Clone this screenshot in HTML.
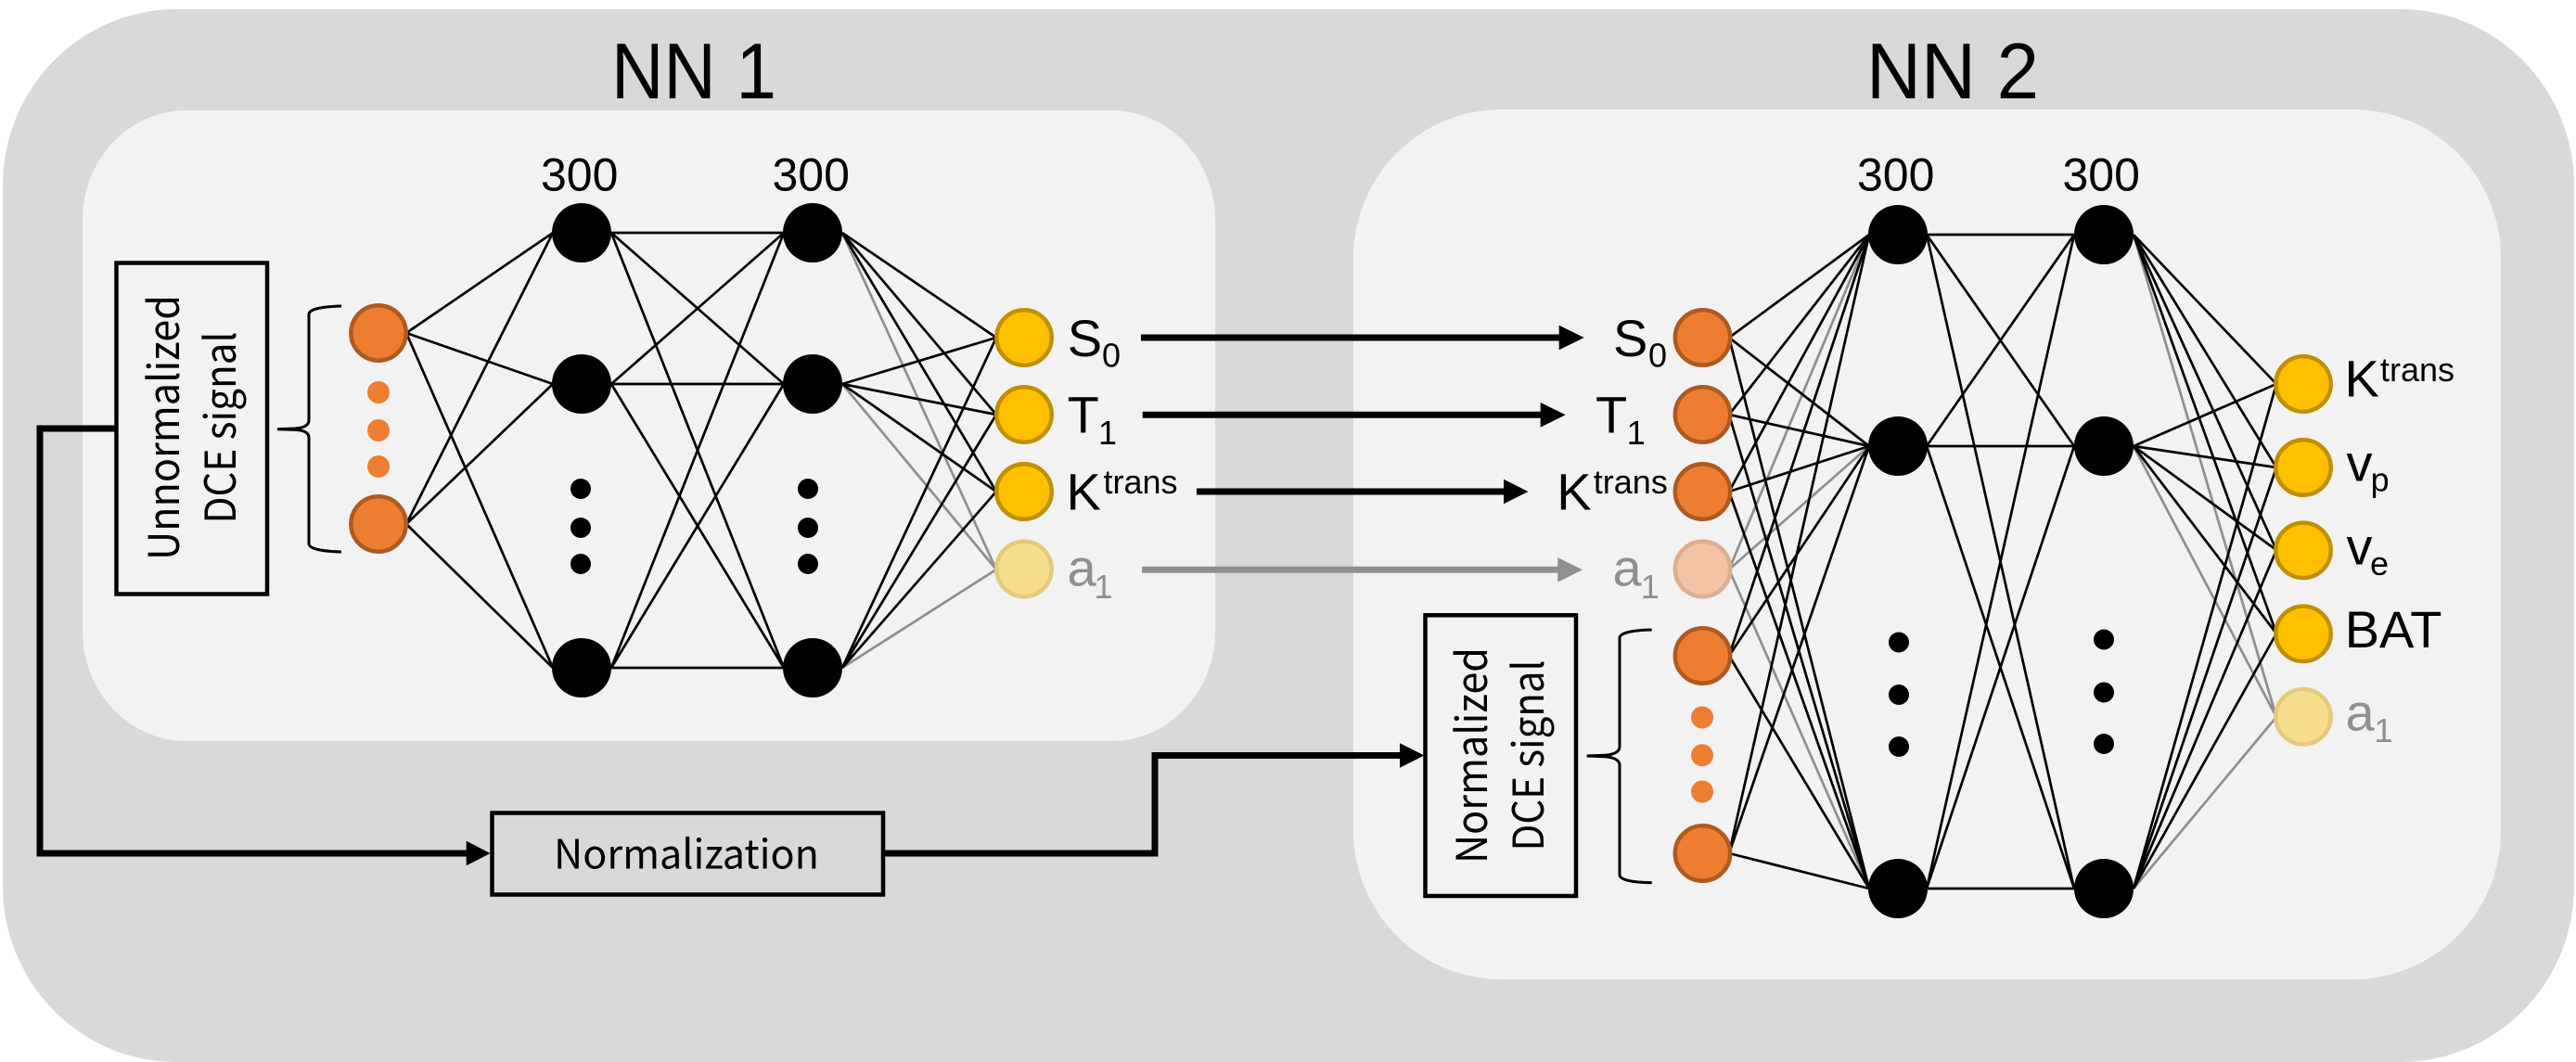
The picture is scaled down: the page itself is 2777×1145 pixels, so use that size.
<!DOCTYPE html>
<html><head><meta charset="utf-8"><style>
html,body{margin:0;padding:0;background:#fff}
svg{display:block}
text{font-family:"Liberation Sans",Arial,sans-serif;fill:#000}
text.g{fill:#8f8f8f}
text.d{font-family:"Noto Sans CJK JP","DejaVu Sans",sans-serif;font-size:46px}
text.h{font-family:"Noto Sans CJK JP","DejaVu Sans",sans-serif;font-size:43.5px}
.L{font-size:56px}.S{font-size:36px}.T{font-size:36px}.H{font-size:50px}.N{font-size:85px}
.e line{stroke:#000;stroke-width:2.7}
.eg line{stroke:#8f8f8f;stroke-width:2.7}
.hn circle{fill:#000}
.o circle{fill:#ed7d31;stroke:#ae5a21;stroke-width:4.5}
.y circle{fill:#ffc000;stroke:#bf9000;stroke-width:4.5}
</style></head><body>
<svg xmlns="http://www.w3.org/2000/svg" width="2777" height="1145" viewBox="0 0 2777 1145">
<rect width="2777" height="1145" fill="#fff"/>
<rect x="3" y="10" width="2772" height="1135" rx="187" ry="190" fill="#d9d9d9"/>
<rect x="89" y="119" width="1221" height="680" rx="112" ry="118" fill="#f2f2f2"/>
<rect x="1459" y="118" width="1237" height="938" rx="160" ry="160" fill="#f2f2f2"/>

<text class="N" x="659" y="106" textLength="178" lengthAdjust="spacingAndGlyphs">NN 1</text>
<text class="N" x="2012" y="106" textLength="186" lengthAdjust="spacingAndGlyphs">NN 2</text>
<text class="H" x="583" y="205.5">300</text>
<text class="H" x="832.5" y="205.5">300</text>
<text class="H" x="2002" y="205.5">300</text>
<text class="H" x="2223.5" y="205.5">300</text>

<!-- NN1 edges -->
<g class="e">
<line x1="438" y1="359" x2="596" y2="251"/><line x1="438" y1="359" x2="596" y2="414"/><line x1="438" y1="359" x2="596" y2="720"/>
<line x1="438" y1="565" x2="596" y2="251"/><line x1="438" y1="565" x2="596" y2="414"/><line x1="438" y1="565" x2="596" y2="720"/>
<line x1="659" y1="251" x2="845" y2="251"/><line x1="659" y1="251" x2="845" y2="414"/><line x1="659" y1="251" x2="845" y2="720"/>
<line x1="659" y1="414" x2="845" y2="251"/><line x1="659" y1="414" x2="845" y2="414"/><line x1="659" y1="414" x2="845" y2="720"/>
<line x1="659" y1="720" x2="845" y2="251"/><line x1="659" y1="720" x2="845" y2="414"/><line x1="659" y1="720" x2="845" y2="720"/>
</g>
<g class="eg">
<line x1="908" y1="251" x2="1074" y2="614"/><line x1="908" y1="414" x2="1074" y2="614"/><line x1="908" y1="720" x2="1074" y2="614"/>
</g>
<g class="e">
<line x1="908" y1="251" x2="1074" y2="364"/><line x1="908" y1="251" x2="1074" y2="447"/><line x1="908" y1="251" x2="1074" y2="530"/>
<line x1="908" y1="414" x2="1074" y2="364"/><line x1="908" y1="414" x2="1074" y2="447"/><line x1="908" y1="414" x2="1074" y2="530"/>
<line x1="908" y1="720" x2="1074" y2="364"/><line x1="908" y1="720" x2="1074" y2="447"/><line x1="908" y1="720" x2="1074" y2="530"/>
</g>

<!-- NN2 edges -->
<g class="eg">
<line x1="1864" y1="614" x2="2015" y2="253"/><line x1="1864" y1="614" x2="2015" y2="481"/><line x1="1864" y1="614" x2="2015" y2="958"/>
<line x1="2300" y1="253" x2="2454" y2="773"/><line x1="2300" y1="481" x2="2454" y2="773"/><line x1="2300" y1="958" x2="2454" y2="773"/>
</g>
<g class="e">
<line x1="1864" y1="364" x2="2015" y2="253"/><line x1="1864" y1="364" x2="2015" y2="481"/><line x1="1864" y1="364" x2="2015" y2="958"/>
<line x1="1864" y1="447" x2="2015" y2="253"/><line x1="1864" y1="447" x2="2015" y2="481"/><line x1="1864" y1="447" x2="2015" y2="958"/>
<line x1="1864" y1="530" x2="2015" y2="253"/><line x1="1864" y1="530" x2="2015" y2="481"/><line x1="1864" y1="530" x2="2015" y2="958"/>
<line x1="1864" y1="707" x2="2015" y2="253"/><line x1="1864" y1="707" x2="2015" y2="481"/><line x1="1864" y1="707" x2="2015" y2="958"/>
<line x1="1864" y1="920" x2="2015" y2="253"/><line x1="1864" y1="920" x2="2015" y2="481"/><line x1="1864" y1="920" x2="2015" y2="958"/>
<line x1="2077" y1="253" x2="2236" y2="253"/><line x1="2077" y1="253" x2="2236" y2="481"/><line x1="2077" y1="253" x2="2236" y2="958"/>
<line x1="2077" y1="481" x2="2236" y2="253"/><line x1="2077" y1="481" x2="2236" y2="481"/><line x1="2077" y1="481" x2="2236" y2="958"/>
<line x1="2077" y1="958" x2="2236" y2="253"/><line x1="2077" y1="958" x2="2236" y2="481"/><line x1="2077" y1="958" x2="2236" y2="958"/>
<line x1="2300" y1="253" x2="2454" y2="414"/><line x1="2300" y1="253" x2="2454" y2="504"/><line x1="2300" y1="253" x2="2454" y2="593"/><line x1="2300" y1="253" x2="2454" y2="683"/>
<line x1="2300" y1="481" x2="2454" y2="414"/><line x1="2300" y1="481" x2="2454" y2="504"/><line x1="2300" y1="481" x2="2454" y2="593"/><line x1="2300" y1="481" x2="2454" y2="683"/>
<line x1="2300" y1="958" x2="2454" y2="414"/><line x1="2300" y1="958" x2="2454" y2="504"/><line x1="2300" y1="958" x2="2454" y2="593"/><line x1="2300" y1="958" x2="2454" y2="683"/>
</g>

<!-- hidden nodes -->
<g class="hn">
<circle cx="627" cy="251" r="32"/><circle cx="627" cy="414" r="32"/><circle cx="627" cy="720" r="32"/>
<circle cx="876" cy="251" r="32"/><circle cx="876" cy="414" r="32"/><circle cx="876" cy="720" r="32"/>
<circle cx="626" cy="527" r="11"/><circle cx="626" cy="569" r="11"/><circle cx="626" cy="608" r="11"/>
<circle cx="871" cy="527" r="11"/><circle cx="871" cy="569" r="11"/><circle cx="871" cy="608" r="11"/>
<circle cx="2046" cy="253" r="32"/><circle cx="2046" cy="481" r="32"/><circle cx="2046" cy="958" r="32"/>
<circle cx="2268" cy="253" r="32"/><circle cx="2268" cy="481" r="32"/><circle cx="2268" cy="958" r="32"/>
<circle cx="2047" cy="692.5" r="11"/><circle cx="2047" cy="749" r="11"/><circle cx="2047" cy="805" r="11"/>
<circle cx="2268" cy="689.5" r="11"/><circle cx="2268" cy="746.5" r="11"/><circle cx="2268" cy="802" r="11"/>
</g>

<!-- input nodes -->
<g class="o">
<circle cx="408" cy="359" r="29.7"/><circle cx="408" cy="565" r="29.7"/>
<circle cx="1835.5" cy="364" r="29.7"/><circle cx="1835.5" cy="447" r="29.7"/><circle cx="1835.5" cy="530" r="29.7"/>
<circle cx="1835.5" cy="707" r="29.7"/><circle cx="1835.5" cy="920" r="29.7"/>
</g>
<circle cx="1835.5" cy="613.5" r="29.7" fill="#f2c3a5" stroke="#dcae90" stroke-width="4.5"/>
<g fill="#ed7d31">
<circle cx="408" cy="423" r="12"/><circle cx="408" cy="464" r="12"/><circle cx="408" cy="503" r="12"/>
<circle cx="1835" cy="773.5" r="12"/><circle cx="1835" cy="814.3" r="12"/><circle cx="1835" cy="853.5" r="12"/>
</g>

<!-- output nodes -->
<g class="y">
<circle cx="1104" cy="364" r="29.7"/><circle cx="1104" cy="447" r="29.7"/><circle cx="1104" cy="530" r="29.7"/>
<circle cx="2483" cy="414" r="29.7"/><circle cx="2483" cy="504" r="29.7"/><circle cx="2483" cy="593.3" r="29.7"/><circle cx="2483" cy="683.3" r="29.7"/>
</g>
<circle cx="1104" cy="613.5" r="29.7" fill="#f8df90" stroke="#e4cb7c" stroke-width="4.5"/>
<circle cx="2483" cy="772.7" r="29.7" fill="#f8df90" stroke="#e4cb7c" stroke-width="4.5"/>

<!-- NN1 output labels -->
<text class="L" x="1150.7" y="384">S</text><text class="S" x="1188" y="395.7">0</text>
<text class="L" x="1150.6" y="466.7">T</text><text class="S" x="1184" y="479">1</text>
<text class="L" x="1149.5" y="549.3">K</text><text class="T" x="1189.5" y="532">trans</text>
<text class="L g" x="1150.5" y="631.7">a</text><text class="S g" x="1179.5" y="645">1</text>

<!-- NN2 input labels -->
<text class="L" x="1739" y="384">S</text><text class="S" x="1777" y="395.7">0</text>
<text class="L" x="1720" y="466.7">T</text><text class="S" x="1753.8" y="479">1</text>
<text class="L" x="1678.2" y="549.3">K</text><text class="T" x="1717.8" y="532">trans</text>
<text class="L g" x="1738.5" y="631.7">a</text><text class="S g" x="1768.8" y="645">1</text>

<!-- NN2 output labels -->
<text class="L" x="2527.5" y="427.3">K</text><text class="T" x="2566" y="411">trans</text>
<text class="L" x="2529.5" y="518.3">v</text><text class="S" x="2555.6" y="529.3">p</text>
<text class="L" x="2529.5" y="608.3">v</text><text class="S" x="2555" y="620">e</text>
<text class="L" x="2527.7" y="698">BAT</text>
<text class="L g" x="2528.5" y="787.3">a</text><text class="S g" x="2559.5" y="800">1</text>

<!-- arrows between nets -->
<g stroke="#000" stroke-width="7" fill="none">
<line x1="1230" y1="364" x2="1685" y2="364"/>
<line x1="1231.7" y1="447.3" x2="1665" y2="447.3"/>
<line x1="1290" y1="530" x2="1625" y2="530"/>
</g>
<line x1="1231" y1="614.3" x2="1683" y2="614.3" stroke="#8f8f8f" stroke-width="7"/>
<polygon points="1680.7,350.7 1707.7,364 1680.7,377.3" fill="#000"/>
<polygon points="1660.7,434 1687.7,447.3 1660.7,460.6" fill="#000"/>
<polygon points="1621,516.7 1647.5,530 1621,543.3" fill="#000"/>
<polygon points="1679.3,601 1706,614.3 1679.3,627.6" fill="#8f8f8f"/>

<!-- boxes -->
<rect x="125.5" y="283.5" width="162.5" height="357" fill="#f2f2f2" stroke="#000" stroke-width="4.5"/>
<rect x="1536.5" y="663.3" width="162.5" height="302.7" fill="#f2f2f2" stroke="#000" stroke-width="4.5"/>
<rect x="530.5" y="876.5" width="421.5" height="88" fill="#d9d9d9" stroke="#000" stroke-width="4.5"/>

<text class="h" x="597" y="936.7" textLength="286" lengthAdjust="spacingAndGlyphs">Normalization</text>
<text class="d" transform="translate(193,604) rotate(-90)" textLength="286" lengthAdjust="spacingAndGlyphs">Unnormalized</text>
<text class="d" transform="translate(254,564.5) rotate(-90)" textLength="207" lengthAdjust="spacingAndGlyphs">DCE signal</text>
<text class="d" transform="translate(1603,931) rotate(-90)" textLength="233" lengthAdjust="spacingAndGlyphs">Normalized</text>
<text class="d" transform="translate(1664,917.5) rotate(-90)" textLength="206" lengthAdjust="spacingAndGlyphs">DCE signal</text>

<!-- braces -->
<path d="M368 330 Q333 331 333 339 L333 453 Q333 461 318 462 L299 462.7 L318 463.4 Q333 464 333 472 L333 586 Q333 594 368 595" fill="none" stroke="#000" stroke-width="3"/>
<path d="M1780.7 679 Q1746 680 1746 688 L1746 805 Q1746 813 1730 814.3 L1710.7 815 L1730 815.7 Q1746 817 1746 825 L1746 943 Q1746 951 1780.7 951.7" fill="none" stroke="#000" stroke-width="3"/>

<!-- elbow connectors -->
<polyline points="125,462 43,462 43,920 508,920" fill="none" stroke="#000" stroke-width="7"/>
<polygon points="502.7,906.7 528.5,920 502.7,933.3" fill="#000"/>
<polyline points="953,920 1245,920 1245,814.5 1514,814.5" fill="none" stroke="#000" stroke-width="7"/>
<polygon points="1509,801.2 1535.5,814.5 1509,827.8" fill="#000"/>
</svg>
</body></html>
